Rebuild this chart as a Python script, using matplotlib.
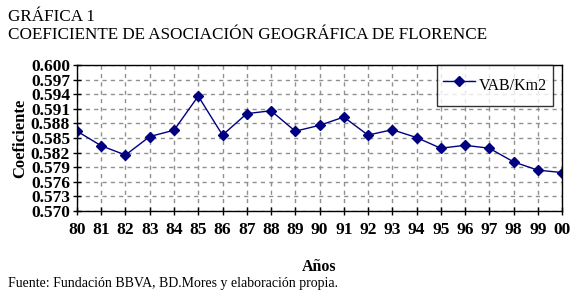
import matplotlib
matplotlib.use("Agg")
import matplotlib.pyplot as plt
from matplotlib.ticker import FixedLocator

years = ["80", "81", "82", "83", "84", "85", "86", "87", "88", "89", "90",
         "91", "92", "93", "94", "95", "96", "97", "98", "99", "00"]
vab_km2 = [0.5864, 0.5834, 0.5815, 0.5853, 0.5866, 0.5936, 0.5856, 0.5900,
           0.5906, 0.5864, 0.5876, 0.5893, 0.5856, 0.5867, 0.5851, 0.5829,
           0.5835, 0.5829, 0.5801, 0.5784, 0.5779]
yticks = [0.570, 0.573, 0.576, 0.579, 0.582, 0.585, 0.588, 0.591, 0.594, 0.597, 0.600]

plt.rcParams['font.family'] = ['Liberation Serif', 'DejaVu Serif']

fig = plt.figure(figsize=(5.75, 2.98), dpi=100)
W, H = 575, 298
ax = fig.add_axes([77 / W, 1 - 211 / H, (562 - 77) / W, (211 - 65) / H])

x = list(range(len(years)))
ax.plot(x, vab_km2, color='#000080', marker='D', markersize=5, linewidth=1.0,
        label='VAB/Km2')
ax.set_xlim(0, len(years) - 1)
ax.set_ylim(0.570, 0.600)
ax.yaxis.set_major_locator(FixedLocator(yticks))
ax.set_yticklabels([f"{v:.3f}" for v in yticks])
ax.set_xticks(x)
ax.set_xticklabels(years)
ax.grid(True, color='#909090', linestyle=(0, (3, 3)), linewidth=1.0)
for s in ax.spines.values():
    s.set_linewidth(1.0)
ax.tick_params(direction='inout', length=6, width=1.0, labelsize=12.5)
ax.tick_params(axis='x', pad=5)
ax.tick_params(axis='y', pad=2)
for lab in ax.get_xticklabels() + ax.get_yticklabels():
    lab.set_fontweight('bold')

ax.set_ylabel('Coeficiente', fontsize=12, fontweight='bold', labelpad=2)
ax.set_xlabel('Años', fontsize=11.5, fontweight='bold', labelpad=15)

leg = ax.legend(loc='upper right', bbox_to_anchor=((553 - 77) / (562 - 77), 1.0),
                frameon=True, fancybox=False, edgecolor='black', fontsize=11.5,
                borderpad=0.4, handlelength=2.0, handleheight=2.3,
                handletextpad=0.2, borderaxespad=0)
leg.get_frame().set_linewidth(1.0)

fig.text(8 / W, 1 - 17 / H, 'GRÁFICA 1', fontsize=12.3, va='center', ha='left')
fig.text(8 / W, 1 - 35 / H, 'COEFICIENTE DE ASOCIACIÓN GEOGRÁFICA DE FLORENCE',
         fontsize=12.3, va='center', ha='left')
fig.text(8 / W, 1 - 284 / H, 'Fuente: Fundación BBVA, BD.Mores y elaboración propia.',
         fontsize=10, va='center', ha='left')

fig.savefig('out.png', dpi=100)
